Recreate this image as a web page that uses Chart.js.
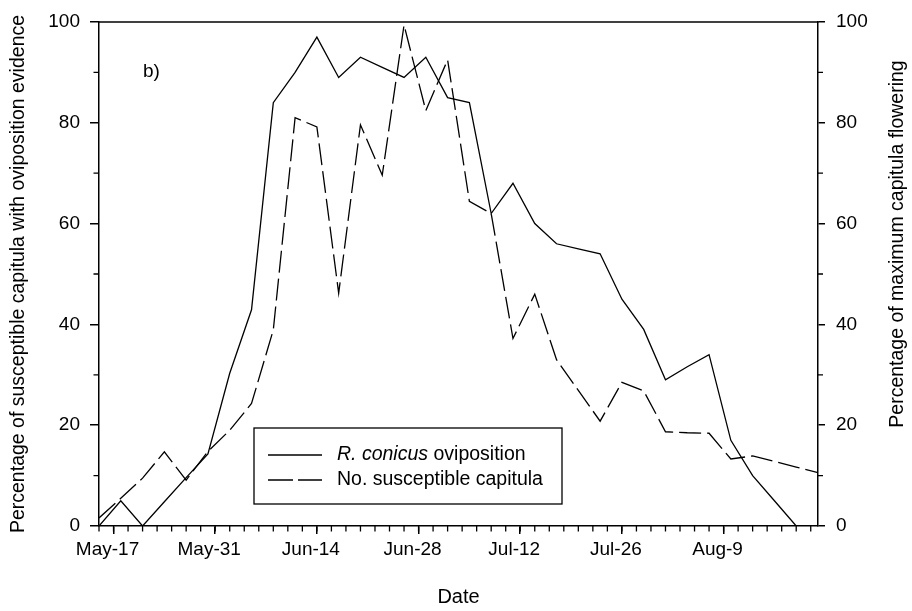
<!DOCTYPE html>
<html>
<head>
<meta charset="utf-8">
<script src="https://cdn.jsdelivr.net/npm/chart.js@4/dist/chart.umd.min.js"></script>
<style>
  html, body { margin: 0; padding: 0; background: #fff; }
  #wrap { width: 912px; height: 611px; }
</style>
</head>
<body>
<div id="wrap"><canvas id="c" width="912" height="611"></canvas></div>
<script>
// Sampling dates (every third day through the season)
const sampleDates = [
  'May-15', 'May-18', 'May-21', 'May-24', 'May-27', 'May-30',
  'Jun-2', 'Jun-5', 'Jun-8', 'Jun-11', 'Jun-14', 'Jun-17', 'Jun-20', 'Jun-23', 'Jun-26', 'Jun-29',
  'Jul-2', 'Jul-5', 'Jul-8', 'Jul-11', 'Jul-14', 'Jul-17', 'Jul-20', 'Jul-23', 'Jul-26', 'Jul-29',
  'Aug-1', 'Aug-4', 'Aug-7', 'Aug-10', 'Aug-13', 'Aug-16', 'Aug-19', 'Aug-22'
];

// % of susceptible capitula with oviposition evidence (left axis)
const ovipositionPct = [
  0, 5, 0, 4.8, 9.6, 14.3,
  30.3, 42.9, 84, 90, 97, 89, 93, 91, 89, 93,
  85, 84, 62, 68, 60, 56, 55, 54, 45, 39,
  29, 31.6, 34, 17, 10, 5, 0, 0
];

// % of maximum capitula flowering (right axis)
const susceptiblePct = [
  1.6, 5.5, 9.5, 14.7, 9.1, 14.8,
  19, 24.3, 38.9, 81, 79.2, 46.2, 79.6, 69.6, 99.4, 82.4,
  92.5, 64.4, 62, 37.2, 46, 33, 26.9, 20.8, 28.5, 26.8,
  18.7, 18.5, 18.4, 13.3, 13.9, 12.8, 11.7, 10.6
];

const axisStart = 'May-15';
const axisEnd = 'Aug-22';
const dateTicks = ['May-17', 'May-31', 'Jun-14', 'Jun-28', 'Jul-12', 'Jul-26', 'Aug-9'];
const percentTicks = [0, 20, 40, 60, 80, 100];
const percentMinorTicks = [10, 30, 50, 70, 90];

const seriesLabels = ['R. conicus oviposition', 'No. susceptible capitula'];
const leftTitle = 'Percentage of susceptible capitula with oviposition evidence';
const rightTitle = 'Percentage of maximum capitula flowering';
const panelLabel = 'b)';

// Date helpers: "Mon-D" <-> day number counted from 1 May
const monthOffset = { May: 0, Jun: 31, Jul: 61, Aug: 92 };
const monthNames = ['May', 'Jun', 'Jul', 'Aug'];
function toDay(s) {
  const [m, d] = s.split('-');
  return monthOffset[m] + Number(d);
}
function fromDay(n) {
  let name = 'May';
  for (const m of monthNames) if (n > monthOffset[m]) name = m;
  return name + '-' + (n - monthOffset[name]);
}

const FONT = "'Liberation Sans', Arial, Helvetica, sans-serif";
const INK = '#000';

// Minor ticks, top frame line, panel label, legend and right-hand title
const decorations = {
  id: 'decorations',
  afterDraw(chart) {
    const { ctx, chartArea: a, scales } = chart;
    const x = scales.x, y = scales.y, y2 = scales.y2;
    ctx.save();
    ctx.strokeStyle = INK;
    ctx.lineWidth = 1.5;
    ctx.beginPath();
    ctx.moveTo(a.left - 0.75, a.top);
    ctx.lineTo(a.right + 0.75, a.top);
    ctx.stroke();

    ctx.lineWidth = 1.3;
    ctx.beginPath();
    for (let d = toDay(axisStart); d <= toDay(axisEnd); d += 2) {
      const px = x.getPixelForValue(d);
      ctx.moveTo(px, a.bottom);
      ctx.lineTo(px, a.bottom + 5.5);
    }
    for (const v of percentMinorTicks) {
      const py = y.getPixelForValue(v);
      ctx.moveTo(a.left, py);
      ctx.lineTo(a.left - 5.5, py);
      const py2 = y2.getPixelForValue(v);
      ctx.moveTo(a.right, py2);
      ctx.lineTo(a.right + 5, py2);
    }
    ctx.stroke();

    ctx.fillStyle = INK;
    ctx.textBaseline = 'alphabetic';
    ctx.textAlign = 'left';
    ctx.font = '19px ' + FONT;
    ctx.fillText(panelLabel, 143, 77);

    // legend
    const bx = 254, by = 428, bw = 308, bh = 76;
    ctx.lineWidth = 1.3;
    ctx.strokeRect(bx, by, bw, bh);
    const rows = [455, 480];
    ctx.beginPath();
    ctx.moveTo(268, rows[0]);
    ctx.lineTo(322, rows[0]);
    ctx.stroke();
    ctx.setLineDash([25, 5]);
    ctx.beginPath();
    ctx.moveTo(268, rows[1]);
    ctx.lineTo(322, rows[1]);
    ctx.stroke();
    ctx.setLineDash([]);

    ctx.textBaseline = 'middle';
    const tx = 337;
    const [italicPart, ...rest] = seriesLabels[0].split(' ');
    const first = italicPart + ' ' + rest[0];
    const tail = ' ' + rest.slice(1).join(' ');
    ctx.font = 'italic 19.5px ' + FONT;
    ctx.fillText(first, tx, rows[0]);
    const w = ctx.measureText(first).width;
    ctx.font = '19.5px ' + FONT;
    ctx.fillText(tail, tx + w, rows[0]);
    ctx.fillText(seriesLabels[1], tx, rows[1]);

    // right-hand axis title, reading bottom to top
    ctx.translate(898, 244);
    ctx.rotate(-Math.PI / 2);
    ctx.textAlign = 'center';
    ctx.font = '19.5px ' + FONT;
    ctx.fillText(rightTitle, 0, 0);
    ctx.restore();
  }
};

const lineData = (vals) => sampleDates.map((d, i) => ({ x: toDay(d), y: vals[i] }));

const tickFont = { family: FONT, size: 19 };

new Chart(document.getElementById('c'), {
  type: 'line',
  data: {
    datasets: [
      {
        label: seriesLabels[0],
        data: lineData(ovipositionPct),
        yAxisID: 'y',
        borderColor: INK,
        borderWidth: 1.3,
        pointRadius: 0,
        tension: 0,
        fill: false
      },
      {
        label: seriesLabels[1],
        data: lineData(susceptiblePct),
        yAxisID: 'y2',
        borderColor: INK,
        borderWidth: 1.3,
        borderDash: [22, 6],
        pointRadius: 0,
        tension: 0,
        fill: false
      }
    ]
  },
  options: {
    responsive: false,
    animation: false,
    devicePixelRatio: 1,
    layout: { padding: { top: 22, left: 0, right: 0, bottom: 0 } },
    plugins: { legend: { display: false }, tooltip: { enabled: false } },
    scales: {
      x: {
        type: 'linear',
        min: toDay(axisStart),
        max: toDay(axisEnd),
        afterBuildTicks: (s) => { s.ticks = dateTicks.map((d) => ({ value: toDay(d) })); },
        ticks: {
          callback: (v) => fromDay(v),
          color: INK,
          font: tickFont,
          labelOffset: -6,
          padding: 4,
          maxRotation: 0,
          autoSkip: false
        },
        grid: { display: true, drawOnChartArea: false, drawTicks: true, tickLength: 8, color: INK, lineWidth: 1.5 },
        border: { display: true, color: INK, width: 1.5 },
        title: { display: true, text: 'Date', color: INK, font: { family: FONT, size: 20 }, padding: { top: 0, bottom: 2 } },
        afterFit: (s) => { s.height = 85; s.paddingLeft = 0; s.paddingRight = 0; }
      },
      y: {
        position: 'left',
        min: 0,
        max: 100,
        afterBuildTicks: (s) => { s.ticks = percentTicks.map((v) => ({ value: v })); },
        ticks: { color: INK, font: tickFont, padding: 10 },
        grid: { display: true, drawOnChartArea: false, drawTicks: true, tickLength: 9, color: INK, lineWidth: 1.5 },
        border: { display: true, color: INK, width: 1.5 },
        title: { display: true, text: leftTitle, color: INK, font: { family: FONT, size: 19.5 }, padding: { top: 7, bottom: 0 } },
        afterFit: (s) => { s.width = 99; s.paddingTop = 0; s.paddingBottom = 0; }
      },
      y2: {
        position: 'right',
        min: 0,
        max: 100,
        afterBuildTicks: (s) => { s.ticks = percentTicks.map((v) => ({ value: v })); },
        ticks: { color: INK, font: tickFont, padding: 11 },
        grid: { display: true, drawOnChartArea: false, drawTicks: true, tickLength: 7, color: INK, lineWidth: 1.5 },
        border: { display: true, color: INK, width: 1.5 },
        title: { display: false },
        afterFit: (s) => { s.width = 94; s.paddingTop = 0; s.paddingBottom = 0; }
      }
    }
  },
  plugins: [decorations]
});
</script>
</body>
</html>
